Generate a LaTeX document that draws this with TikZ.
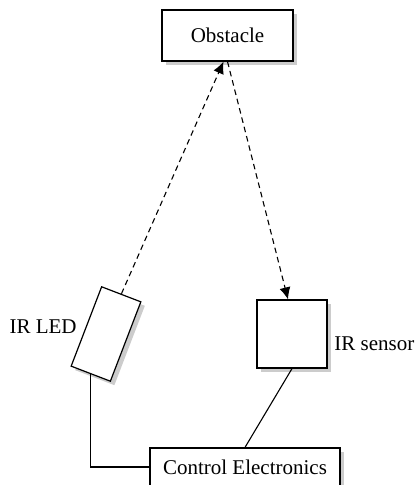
\documentclass[tikz,border=0pt]{standalone}
\usepackage{fontspec}
\setmainfont{Liberation Serif}
\usetikzlibrary{arrows.meta,positioning,shadows}

\begin{document}
\begin{tikzpicture}[x=0.5pt,y=0.5pt,>={Latex[length=6pt,width=5.5pt]},
  font=\fontsize{10.5}{12}\selectfont,
  box/.style={draw,fill=white,line width=0.6pt,
    drop shadow={shadow xshift=2pt,shadow yshift=-2pt,fill=black!20,opacity=1}},
  beam/.style={->,dash pattern=on 2.8pt off 2pt,line width=0.55pt},
  wire/.style={line width=0.55pt}]
  \useasboundingbox (0,0) rectangle (416,485);
  \node[box,minimum width=65.5pt,minimum height=25.5pt] (obs) at (227.5,449.5) {Obstacle};
  \node[box,minimum width=21pt,minimum height=42.5pt,rotate=-21] (led) at (106,151) {};
  \node[box,minimum width=35pt,minimum height=34pt] (sensor) at (292,151) {};
  \node[box,minimum width=95pt,minimum height=19pt] (ctrl) at (245,18) {Control Electronics};
  \node[anchor=east,inner sep=0pt] (ledlabel) at (77,158) {IR LED};
  \node[anchor=west,inner sep=0pt] (senslabel) at (334,141) {IR sensor};
  \draw[beam] (led.north) -- ([xshift=-2pt]obs.south);
  \draw[beam] (obs.south) -- ([xshift=-2pt]sensor.north);
  \draw[wire] (led.south) |- (ctrl.west);
  \draw[wire] (sensor.south) -- (ctrl.north);
\end{tikzpicture}
\end{document}
